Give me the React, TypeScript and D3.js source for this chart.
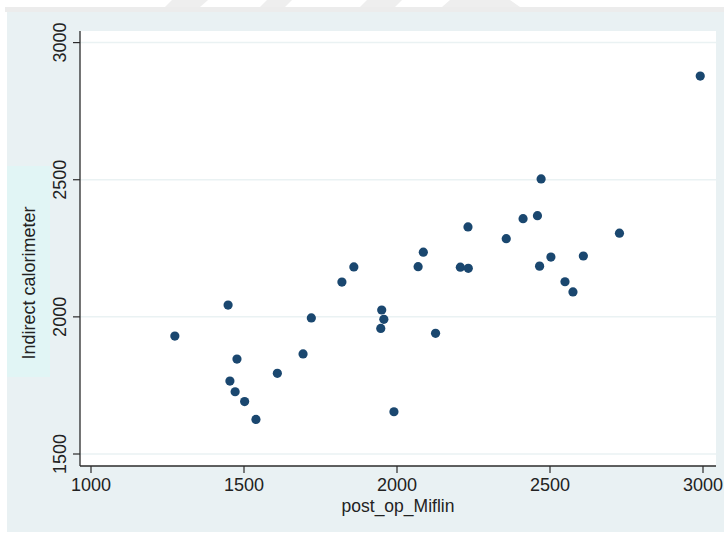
import React, { useEffect, useRef } from 'react';
import * as d3 from 'd3';

// post_op_Miflin vs Indirect calorimeter
const miflin = [
  1274, 1448, 1477, 1454, 1471, 1502, 1539, 1609, 1693, 1720, 1820,
  1859, 2069, 2086, 2207, 2233, 2232, 1950, 1957, 1947, 2126, 1990,
  2471, 2412, 2459, 2357, 2727, 2503, 2466, 2609, 2549, 2575, 2991,
];
const calorimeter = [
  1930, 2043, 1846, 1766, 1727, 1691, 1626, 1794, 1865, 1996, 2127,
  2182, 2183, 2236, 2181, 2177, 2328, 2025, 1991, 1958, 1940, 1654,
  2503, 2358, 2369, 2285, 2305, 2218, 2185, 2222, 2128, 2091, 2878,
];
const xTicks = [1000, 1500, 2000, 2500, 3000];
const yTicks = [1500, 2000, 2500, 3000];
const xTitle = 'post_op_Miflin';
const yTitle = 'Indirect calorimeter';

const App = () => {
  const svgRef = useRef<SVGSVGElement>(null);
  const width = 724;
  const height = 534;

  useEffect(() => {
    const svg = d3.select(svgRef.current);
    svg.selectAll('*').remove();

    const font = '"Liberation Sans", Arial, Helvetica, sans-serif';
    const plot = { left: 80, top: 31, right: 716, bottom: 466 };

    const x = d3.scaleLinear().domain([1000, 3000]).range([91, 703]);
    const y = d3.scaleLinear().domain([1500, 3000]).range([454, 42.6]);

    // page background + watermark stripes at the top
    svg.append('rect').attr('width', width).attr('height', height).attr('fill', '#ffffff');
    const stripes = [
      [165, 172, 208, 200],
      [260, 267, 292, 285],
      [360, 367, 402, 395],
      [442, 450, 510, 520],
    ];
    svg
      .selectAll('polygon.stripe')
      .data(stripes)
      .enter()
      .append('polygon')
      .attr('class', 'stripe')
      .attr('points', (d) => `${d[0]},7 ${d[1]},0 ${d[2]},0 ${d[3]},7`)
      .attr('fill', '#eeeeee');
    svg.append('rect').attr('x', 5).attr('y', 7).attr('width', width - 5).attr('height', 5).attr('fill', '#ececec');

    // outer graph region
    svg.append('rect').attr('x', 7).attr('y', 12).attr('width', width - 7).attr('height', 520).attr('fill', '#e9f1f3');

    // y title box
    svg.append('rect').attr('x', 7).attr('y', 166).attr('width', 43).attr('height', 211).attr('fill', '#e1f5f5');

    // plot region
    svg
      .append('rect')
      .attr('x', plot.left)
      .attr('y', plot.top)
      .attr('width', plot.right - plot.left)
      .attr('height', plot.bottom - plot.top)
      .attr('fill', '#ffffff');

    // gridlines
    svg
      .selectAll('line.grid')
      .data(yTicks)
      .enter()
      .append('line')
      .attr('class', 'grid')
      .attr('x1', plot.left)
      .attr('x2', plot.right)
      .attr('y1', (d) => y(d))
      .attr('y2', (d) => y(d))
      .attr('stroke', '#eaf2f3')
      .attr('stroke-width', 1.5);

    // axes
    const axisColor = '#2b2b2b';
    svg.append('line').attr('x1', plot.left).attr('x2', plot.left).attr('y1', plot.top).attr('y2', plot.bottom)
      .attr('stroke', axisColor).attr('stroke-width', 1.3);
    svg.append('line').attr('x1', plot.left).attr('x2', plot.right).attr('y1', plot.bottom).attr('y2', plot.bottom)
      .attr('stroke', axisColor).attr('stroke-width', 1.3);

    svg
      .selectAll('line.ytick')
      .data(yTicks)
      .enter()
      .append('line')
      .attr('class', 'ytick')
      .attr('x1', plot.left - 7)
      .attr('x2', plot.left)
      .attr('y1', (d) => y(d))
      .attr('y2', (d) => y(d))
      .attr('stroke', axisColor)
      .attr('stroke-width', 1.2);

    svg
      .selectAll('line.xtick')
      .data(xTicks)
      .enter()
      .append('line')
      .attr('class', 'xtick')
      .attr('x1', (d) => x(d))
      .attr('x2', (d) => x(d))
      .attr('y1', plot.bottom)
      .attr('y2', plot.bottom + 7)
      .attr('stroke', axisColor)
      .attr('stroke-width', 1.2);

    // tick labels
    svg
      .selectAll('text.xlab')
      .data(xTicks)
      .enter()
      .append('text')
      .attr('class', 'xlab')
      .attr('x', (d) => x(d))
      .attr('y', 491)
      .attr('text-anchor', 'middle')
      .style('font-family', font)
      .style('font-size', '18px')
      .style('fill', '#222')
      .text((d) => d);

    svg
      .selectAll('text.ylab')
      .data(yTicks)
      .enter()
      .append('text')
      .attr('class', 'ylab')
      .attr('transform', (d) => `translate(66,${y(d)}) rotate(-90)`)
      .attr('text-anchor', 'middle')
      .style('font-family', font)
      .style('font-size', '18px')
      .style('fill', '#222')
      .text((d) => d);

    // axis titles
    svg
      .append('text')
      .attr('x', (plot.left + plot.right) / 2)
      .attr('y', 511.5)
      .attr('text-anchor', 'middle')
      .style('font-family', font)
      .style('font-size', '17.5px')
      .style('fill', '#222')
      .text(xTitle);

    svg
      .append('text')
      .attr('transform', 'translate(34.5,283) rotate(-90)')
      .attr('text-anchor', 'middle')
      .style('font-family', font)
      .style('font-size', '18px')
      .style('fill', '#222')
      .text(yTitle);

    // points
    const points = miflin.map((v, i) => ({ mx: v, ic: calorimeter[i] }));
    svg
      .selectAll('circle.pt')
      .data(points)
      .enter()
      .append('circle')
      .attr('class', 'pt')
      .attr('cx', (d) => x(d.mx))
      .attr('cy', (d) => y(d.ic))
      .attr('r', 4.6)
      .attr('fill', '#1a476f');
  }, []);

  return (
    <svg
      ref={svgRef}
      width={width}
      height={height}
      style={{ position: 'absolute', left: 0, top: 0 }}
    />
  );
};

export default App;
